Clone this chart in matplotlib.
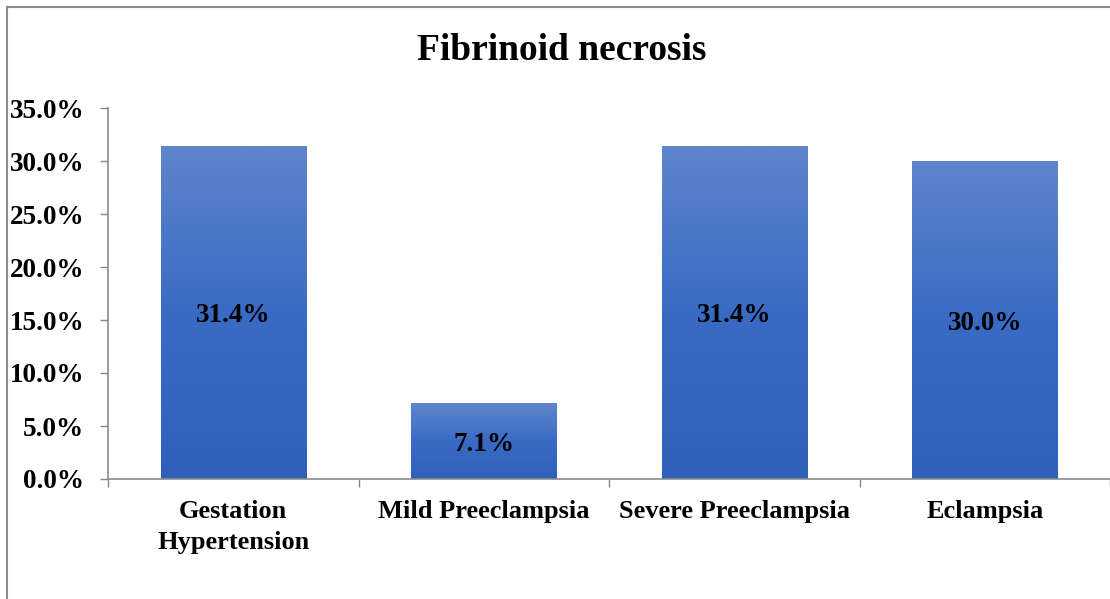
import numpy as np
import matplotlib.pyplot as plt
from matplotlib.lines import Line2D
from matplotlib.colors import LinearSegmentedColormap

categories = ['Gestation\nHypertension', 'Mild Preeclampsia', 'Severe Preeclampsia', 'Eclampsia']
values = [31.4, 7.1, 31.4, 30.0]
labels = ['31.4%', '7.1%', '31.4%', '30.0%']
yticks = [0, 5, 10, 15, 20, 25, 30, 35]

plt.rcParams['font.family'] = ['Liberation Serif', 'DejaVu Serif']
plt.rcParams['font.weight'] = 'bold'

fig = plt.figure(figsize=(11.1, 5.99), dpi=100)
ax = fig.add_axes([108 / 1110, 120 / 599, 1002 / 1110, 371 / 599])

x = np.arange(len(categories))
width = 0.58
bars = ax.bar(x, values, width=width, color='none', edgecolor='none')

# vertical gradient in each bar
grad = np.linspace(0, 1, 256).reshape(-1, 1)
cmap = LinearSegmentedColormap.from_list('g', ['#2f61bb', '#3a6bc4', '#5f85cc'])
for b in bars:
    x0, y0 = b.get_x(), b.get_y()
    ax.imshow(grad, extent=[x0, x0 + b.get_width(), y0, y0 + b.get_height()],
              origin='lower', aspect='auto', cmap=cmap, zorder=2)

for xi, v, lab in zip(x, values, labels):
    ax.text(xi, v / 2, lab, ha='center', va='center_baseline', fontsize=19.5,
            fontweight='bold', zorder=3)

ax.set_xlim(-0.5, len(categories) - 0.5)
ax.set_ylim(0, 35)
ax.set_yticks(yticks)
ax.set_yticklabels([f'{t:.1f}%' for t in yticks], fontsize=19.5, fontweight='bold')
ax.set_xticks(x)
ax.set_xticklabels(categories, fontsize=19, fontweight='bold', linespacing=1.45)
ax.set_xticks(np.arange(len(categories) + 1) - 0.5, minor=True)
ax.tick_params(axis='x', which='major', length=0, pad=15)
ax.tick_params(axis='x', which='minor', length=6, color='#888888', width=1)
ax.tick_params(axis='y', length=6, color='#888888', width=1, pad=11)

for s in ['top', 'right']:
    ax.spines[s].set_visible(False)
for s in ['left', 'bottom']:
    ax.spines[s].set_color('#8c8c8c')
    ax.spines[s].set_linewidth(1.2)

fig.text(562 / 1110, 1 - 50 / 599, 'Fibrinoid necrosis', ha='center', va='center',
         fontsize=27, fontweight='bold')

# outer chart border
fig.add_artist(Line2D([7 / 1110, 7 / 1110], [0, 1 - 7 / 599], color='#8c8c8c', lw=1.5))
fig.add_artist(Line2D([7 / 1110, 1], [1 - 7 / 599, 1 - 7 / 599], color='#8c8c8c', lw=1.5))

fig.savefig('out.png', dpi=100)
